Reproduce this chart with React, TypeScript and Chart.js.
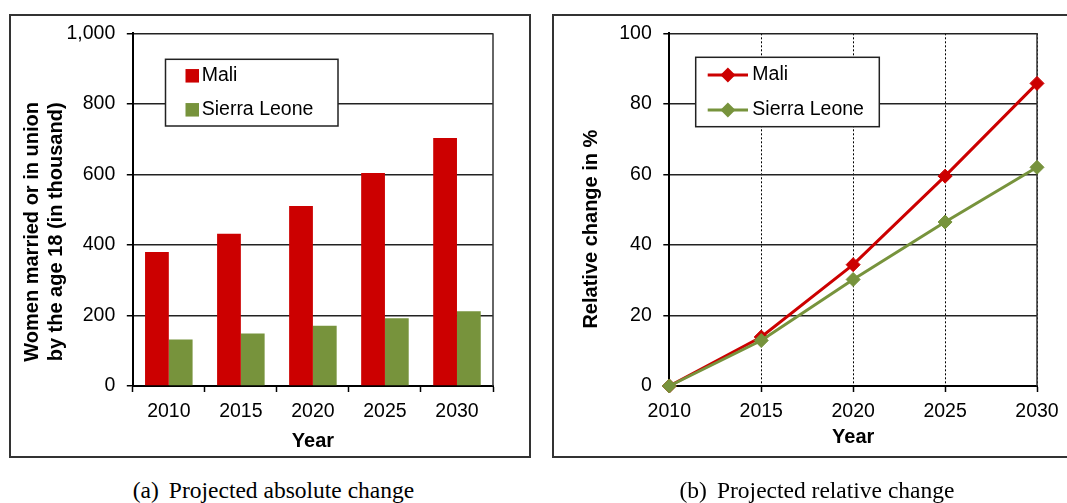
import React, { useEffect, useRef } from 'react';
import { Chart, registerables } from 'chart.js';

Chart.register(...registerables);

// ---- data ----
const years = ['2010', '2015', '2020', '2025', '2030'];
const seriesNames = ['Mali', 'Sierra Leone'];
const maliAbsolute = [380, 432, 510, 604, 703];
const sierraLeoneAbsolute = [132, 149, 171, 192, 212];
const maliRelative = [0, 13.9, 34.4, 59.5, 85.8];
const sierraLeoneRelative = [0, 12.9, 30.2, 46.5, 62.0];
const absoluteTicks = [0, 200, 400, 600, 800, 1000];
const relativeTicks = [0, 20, 40, 60, 80, 100];
const absoluteAxisTitle = ['Women married or in union', 'by the age 18 (in thousand)'];
const relativeAxisTitle = 'Relative change in %';
const xAxisTitle = 'Year';
const captionA = ['(a)', 'Projected absolute change'];
const captionB = ['(b)', 'Projected relative change'];

// ---- styles ----
const RED = '#CC0000';
const GREEN = '#77933C';
const SANS = '"Liberation Sans", Arial, sans-serif';
const SERIF = '"Liberation Serif", "Times New Roman", serif';
const TICK_FONT = { family: SANS, size: 19.5 };
const TITLE_FONT = { family: SANS, size: 20, weight: 'bold' as const, lineHeight: 1.2 };

const plotBorder = {
  id: 'plotBorder',
  beforeDatasetsDraw(chart: any) {
    const { ctx, chartArea: a } = chart;
    ctx.save();
    ctx.strokeStyle = '#333';
    ctx.lineWidth = 1.5;
    ctx.beginPath();
    ctx.moveTo(a.right, a.top);
    ctx.lineTo(a.right, a.bottom);
    ctx.stroke();
    ctx.restore();
  },
};

function makeLegend(kind: 'box' | 'line', g: any) {
  return {
    id: 'insetLegend',
    afterDraw(chart: any) {
      const { ctx, chartArea: a } = chart;
      const x0 = a.left + g.dx;
      const y0 = a.top + g.dy;
      ctx.save();
      ctx.fillStyle = '#fff';
      ctx.fillRect(x0, y0, g.w, g.h);
      ctx.strokeStyle = '#222';
      ctx.lineWidth = 1.5;
      ctx.strokeRect(x0, y0, g.w, g.h);
      ctx.font = `19.5px ${SANS}`;
      ctx.textBaseline = 'middle';
      ctx.textAlign = 'left';
      chart.data.datasets.forEach((ds: any, i: number) => {
        const cy = y0 + g.rows[i];
        const color = ds.backgroundColor;
        if (kind === 'box') {
          ctx.fillStyle = color;
          ctx.fillRect(x0 + g.symX, cy - g.sym / 2, g.sym, g.sym);
        } else {
          ctx.strokeStyle = color;
          ctx.lineWidth = 3;
          ctx.beginPath();
          ctx.moveTo(x0 + g.symX, cy);
          ctx.lineTo(x0 + g.symX + g.lineLen, cy);
          ctx.stroke();
          const cx = x0 + g.symX + g.lineLen / 2;
          const r = 7.5;
          ctx.fillStyle = color;
          ctx.beginPath();
          ctx.moveTo(cx, cy - r);
          ctx.lineTo(cx + r, cy);
          ctx.lineTo(cx, cy + r);
          ctx.lineTo(cx - r, cy);
          ctx.closePath();
          ctx.fill();
        }
        ctx.fillStyle = '#000';
        ctx.fillText(ds.label, x0 + g.textX, cy);
      });
      ctx.restore();
    },
  };
}

const pad = (s: string, n: number) => s + ' '.repeat(n);

const fitY = (w: number) => (s: any) => {
  s.width = w;
  s.paddingTop = 0;
  s.paddingBottom = 0;
};

function leftConfig(): any {
  return {
    type: 'bar',
    data: {
      labels: years,
      datasets: [
        { label: seriesNames[0], data: maliAbsolute, backgroundColor: RED, borderWidth: 0, categoryPercentage: 0.66, barPercentage: 1 },
        { label: seriesNames[1], data: sierraLeoneAbsolute, backgroundColor: GREEN, borderWidth: 0, categoryPercentage: 0.66, barPercentage: 1 },
      ],
    },
    options: {
      responsive: false,
      animation: false,
      layout: { padding: { left: 0, top: 19.3, right: 38, bottom: 0 } },
      plugins: { legend: { display: false }, tooltip: { enabled: false } },
      scales: {
        x: {
          grid: { display: true, drawOnChartArea: false, drawTicks: true, tickLength: 6, tickWidth: 1.5, tickColor: '#000', offset: true },
          border: { display: true, color: '#000', width: 2 },
          ticks: { color: '#000', font: TICK_FONT, padding: 8.3, maxRotation: 0, autoSkip: false },
          title: { display: true, text: xAxisTitle, color: '#000', font: TITLE_FONT, padding: { top: 0, bottom: 5 } },
          afterFit: (s: any) => { s.height = 72; },
        },
        y: {
          min: absoluteTicks[0],
          max: absoluteTicks[absoluteTicks.length - 1],
          afterBuildTicks: (s: any) => { s.ticks = absoluteTicks.map((v) => ({ value: v })); },
          grid: { color: '#222', lineWidth: 1.5, drawTicks: true, tickLength: 6, tickColor: '#000', tickWidth: 1.5 },
          border: { display: true, color: '#000', width: 2 },
          ticks: { color: '#000', font: TICK_FONT, padding: 11.5, callback: (v: any) => Number(v).toLocaleString('en-US') },
          title: { display: true, text: absoluteAxisTitle.map((t) => pad(t, 8)), color: '#000', font: TITLE_FONT, padding: { top: 11.8, bottom: 0 } },
          afterFit: fitY(123.8),
        },
      },
    },
    plugins: [
      plotBorder,
      makeLegend('box', { dx: 32.7, dy: 26, w: 172.5, h: 66.7, rows: [16.5, 50.5], symX: 20, sym: 13.5, textX: 36.2 }),
    ],
  };
}

function rightConfig(): any {
  const line = (label: string, data: number[], color: string, order: number) => ({
    label,
    data,
    borderColor: color,
    backgroundColor: color,
    borderWidth: 3,
    pointStyle: 'rectRot',
    pointRadius: 7,
    pointBorderWidth: 1,
    pointBackgroundColor: color,
    pointBorderColor: color,
    tension: 0,
    clip: false,
    order,
  });
  return {
    type: 'line',
    data: {
      labels: years,
      datasets: [line(seriesNames[0], maliRelative, RED, 1), line(seriesNames[1], sierraLeoneRelative, GREEN, 0)],
    },
    options: {
      responsive: false,
      animation: false,
      layout: { padding: { left: 0, top: 19.3, right: 29.3, bottom: 0 } },
      plugins: { legend: { display: false }, tooltip: { enabled: false } },
      scales: {
        x: {
          offset: false,
          grid: { display: true, drawOnChartArea: true, color: '#000', lineWidth: 1, drawTicks: true, tickLength: 6, tickWidth: 1.5, tickColor: '#000', offset: false },
          border: { display: true, color: '#000', width: 2, dash: [2, 2] },
          ticks: { color: '#000', font: TICK_FONT, padding: 8.3, maxRotation: 0, autoSkip: false },
          title: { display: true, text: xAxisTitle, color: '#000', font: TITLE_FONT, padding: { top: 0, bottom: 9 } },
          afterFit: (s: any) => { s.height = 72; },
        },
        y: {
          min: relativeTicks[0],
          max: relativeTicks[relativeTicks.length - 1],
          afterBuildTicks: (s: any) => { s.ticks = relativeTicks.map((v) => ({ value: v })); },
          grid: { color: '#222', lineWidth: 1.5, drawTicks: true, tickLength: 6, tickColor: '#000', tickWidth: 1.5 },
          border: { display: true, color: '#000', width: 2 },
          ticks: { color: '#000', font: TICK_FONT, padding: 11.5 },
          title: { display: true, text: pad(relativeAxisTitle, 7), color: '#000', font: TITLE_FONT, padding: { top: 27.7, bottom: 0 } },
          afterFit: fitY(117.3),
        },
      },
    },
    plugins: [
      plotBorder,
      makeLegend('line', { dx: 26.4, dy: 24, w: 183.6, h: 69.4, rows: [17.7, 52.7], symX: 12, lineLen: 40.3, textX: 56.6 }),
    ],
  };
}

function ChartCanvas({ config, left, top, width, height }: any) {
  const ref = useRef<HTMLCanvasElement | null>(null);
  useEffect(() => {
    const chart = new Chart(ref.current as HTMLCanvasElement, config());
    return () => chart.destroy();
  }, []);
  return (
    <canvas
      ref={ref}
      width={width}
      height={height}
      style={{ position: 'absolute', left, top, width, height, display: 'block' }}
    />
  );
}

const frame = (left: number, width: number): React.CSSProperties => ({
  position: 'absolute',
  left,
  top: 14,
  width,
  height: 444,
  border: '2px solid #333',
  boxSizing: 'border-box',
  pointerEvents: 'none',
});

const captionStyle = (left: number, width: number): React.CSSProperties => ({
  position: 'absolute',
  left,
  width,
  top: 476,
  textAlign: 'center',
  fontFamily: SERIF,
  fontSize: 23.5,
  lineHeight: '28px',
  whiteSpace: 'nowrap',
  color: '#000',
});

export default function App() {
  return (
    <div style={{ position: 'fixed', left: 0, top: 0, width: 1067, height: 503, background: '#fff', overflow: 'hidden' }}>
      <ChartCanvas config={leftConfig} left={9} top={14} width={522} height={444} />
      <div style={frame(9, 522)} />
      <ChartCanvas config={rightConfig} left={552} top={14} width={515} height={444} />
      <div style={frame(552, 540)} />
      <div style={captionStyle(0, 547)}>
        <span style={{ marginRight: 10 }}>{captionA[0]}</span>
        {captionA[1]}
      </div>
      <div style={captionStyle(553, 528)}>
        <span style={{ marginRight: 10 }}>{captionB[0]}</span>
        {captionB[1]}
      </div>
    </div>
  );
}
